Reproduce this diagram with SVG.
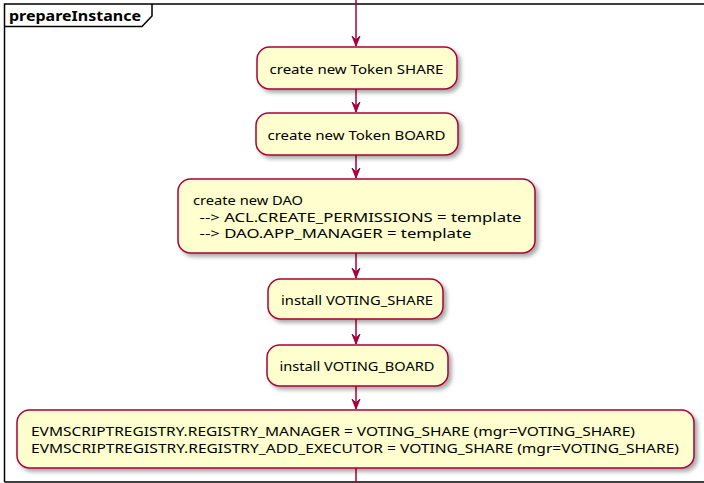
<svg xmlns="http://www.w3.org/2000/svg" width="704" height="483" viewBox="0 0 704 483">
  <style>
    .frame { fill: none; stroke: #000000; stroke-width: 1.5; }
    .act { fill: #FEFECE; stroke: #A80036; stroke-width: 1.5; filter: url(#shadow); }
    .lbl { font-family: "Noto Sans", "Open Sans", "Liberation Sans", sans-serif; font-size: 13px; fill: #000000; }
    .title { font-family: "Noto Sans", "Liberation Sans", sans-serif; font-size: 14px; font-weight: bold; fill: #000000; }
    .flow { stroke: #A80036; stroke-width: 1.5; fill: none; }
    .head { fill: #A80036; stroke: #A80036; stroke-width: 1; }
  </style>
  <defs>
    <filter id="shadow" x="-10%" y="-20%" width="130%" height="160%">
      <feGaussianBlur in="SourceAlpha" stdDeviation="2"/>
      <feOffset dx="3" dy="3" result="b"/>
      <feComponentTransfer><feFuncA type="linear" slope="0.35"/></feComponentTransfer>
      <feMerge><feMergeNode/><feMergeNode in="SourceGraphic"/></feMerge>
    </filter>
    <polygon id="ah" points="-4,-10 0,0 4,-10 0,-6"/>
  </defs>

  <rect x="0" y="0" width="704" height="483" fill="#FFFFFF"/>

  <!-- partition frame -->
  <g id="partition">
    <path class="frame" d="M4.5,482 L4.5,4 L710,4"/>
    <path class="frame" d="M4.5,482 L710,482"/>
    <path class="frame" d="M4.5,26.5 L142,26.5 L152,16 L152,4"/>
    <text class="title" x="9" y="21" textLength="132" lengthAdjust="spacingAndGlyphs">prepareInstance</text>
  </g>

  <!-- control flow -->
  <g id="connectors">
    <line class="flow" x1="356" y1="0" x2="356" y2="46"/>
    <use href="#ah" class="head" x="356" y="46"/>
    <line class="flow" x1="356" y1="89" x2="356" y2="112"/>
    <use href="#ah" class="head" x="356" y="112"/>
    <line class="flow" x1="356" y1="155" x2="356" y2="178"/>
    <use href="#ah" class="head" x="356" y="178"/>
    <line class="flow" x1="356" y1="253" x2="356" y2="278"/>
    <use href="#ah" class="head" x="356" y="278"/>
    <line class="flow" x1="356" y1="319" x2="356" y2="344"/>
    <use href="#ah" class="head" x="356" y="344"/>
    <line class="flow" x1="356" y1="386" x2="356" y2="409"/>
    <use href="#ah" class="head" x="356" y="409"/>
    <line class="flow" x1="356" y1="468" x2="356" y2="483"/>
  </g>

  <g id="tokenShare">
    <rect class="act" x="257" y="47" width="200" height="42" rx="12.5"/>
    <text class="lbl" x="269.5" y="73.5" textLength="174" lengthAdjust="spacingAndGlyphs">create new Token SHARE</text>
  </g>

  <g id="tokenBoard">
    <rect class="act" x="256" y="113" width="202" height="42" rx="12.5"/>
    <text class="lbl" x="267.5" y="139.5" textLength="178" lengthAdjust="spacingAndGlyphs">create new Token BOARD</text>
  </g>

  <g id="newDao">
    <rect class="act" x="178" y="179" width="357" height="74" rx="12.5"/>
    <text class="lbl" x="193" y="205" textLength="110" lengthAdjust="spacingAndGlyphs">create new DAO</text>
    <text class="lbl" x="199.5" y="221.5" textLength="322" lengthAdjust="spacingAndGlyphs">--&gt; ACL.CREATE_PERMISSIONS = template</text>
    <text class="lbl" x="199.5" y="238" textLength="272" lengthAdjust="spacingAndGlyphs">--&gt; DAO.APP_MANAGER = template</text>
  </g>

  <g id="votingShare">
    <rect class="act" x="268" y="279" width="175" height="40" rx="12.5"/>
    <text class="lbl" x="281" y="305" textLength="152" lengthAdjust="spacingAndGlyphs">install VOTING_SHARE</text>
  </g>

  <g id="votingBoard">
    <rect class="act" x="267" y="345" width="181" height="41" rx="12.5"/>
    <text class="lbl" x="279.5" y="371" textLength="155" lengthAdjust="spacingAndGlyphs">install VOTING_BOARD</text>
  </g>

  <g id="evmScriptRegistry">
    <rect class="act" x="17" y="410" width="677" height="58" rx="12.5"/>
    <text class="lbl" x="31" y="435.5" textLength="604" lengthAdjust="spacingAndGlyphs">EVMSCRIPTREGISTRY.REGISTRY_MANAGER = VOTING_SHARE (mgr=VOTING_SHARE)</text>
    <text class="lbl" x="31" y="452.5" textLength="648" lengthAdjust="spacingAndGlyphs">EVMSCRIPTREGISTRY.REGISTRY_ADD_EXECUTOR = VOTING_SHARE (mgr=VOTING_SHARE)</text>
  </g>
</svg>
